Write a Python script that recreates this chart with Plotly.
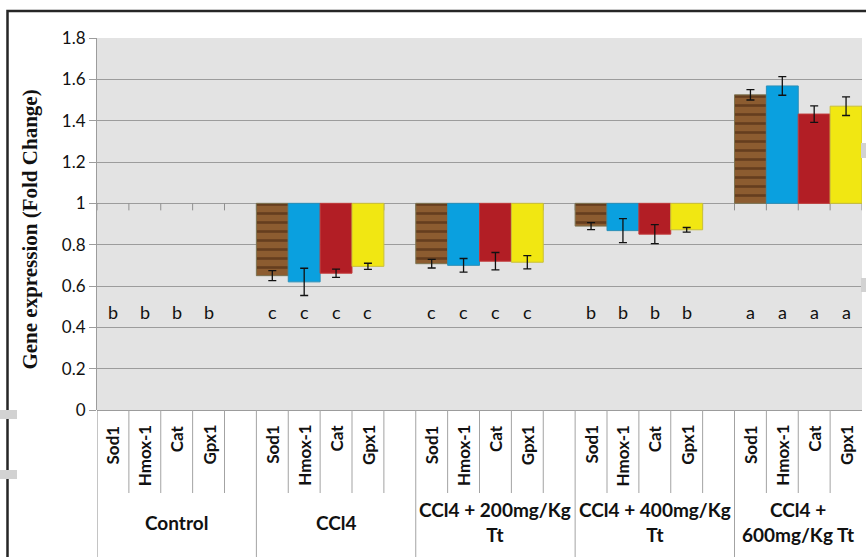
import plotly.graph_objects as go

groups = ["Control", "CCl4", "CCl4 + 200mg/Kg<br>Tt", "CCl4 + 400mg/Kg<br>Tt", "CCl4 +<br>600mg/Kg Tt"]
genes = ["Sod1", "Hmox-1", "Cat", "Gpx1"]

sod1 = [1.0, 0.650, 0.708, 0.890, 1.525]
hmox1 = [1.0, 0.620, 0.700, 0.868, 1.568]
cat = [1.0, 0.662, 0.720, 0.851, 1.432]
gpx1 = [1.0, 0.695, 0.715, 0.872, 1.470]

sod1_err = [0.0, 0.024, 0.021, 0.017, 0.025]
hmox1_err = [0.0, 0.066, 0.033, 0.058, 0.045]
cat_err = [0.0, 0.020, 0.042, 0.046, 0.040]
gpx1_err = [0.0, 0.015, 0.032, 0.011, 0.045]

letters = [["b", "b", "b", "b"], ["c", "c", "c", "c"], ["c", "c", "c", "c"],
           ["b", "b", "b", "b"], ["a", "a", "a", "a"]]

y_ticks = [0, 0.2, 0.4, 0.6, 0.8, 1.0, 1.2, 1.4, 1.6, 1.8]
y_tick_text = ["0", "0.2", "0.4", "0.6", "0.8", "1", "1.2", "1.4", "1.6", "1.8"]

SLOTS_PER_GROUP = 5
N_SLOTS = 24
BASE = 1.0
LETTER_Y = 0.475

FONT = "Lato"

def xpos(gi, ji):
    return gi * SLOTS_PER_GROUP + ji

series = [
    (sod1, sod1_err, "#8a5a2e", "#7d7452",
     dict(shape="-", fgcolor="#3e200c", bgcolor="#8c5c30", size=9, solidity=0.3)),
    (hmox1, hmox1_err, "#0aa0df", "#2a8fb8", None),
    (cat, cat_err, "#b21e25", "#c23a3a", None),
    (gpx1, gpx1_err, "#f1e712", "#c9bf3a", None),
]

fig = go.Figure()

# axis-crossing ticks at y = 1 (behind bars)
shapes = []
for k in range(N_SLOTS + 1):
    shapes.append(dict(type="line", xref="x", yref="y", x0=k - 0.5, x1=k - 0.5,
                       y0=BASE, y1=BASE - 0.034, line=dict(color="#8f8f8f", width=1),
                       layer="between"))

for ji, (vals, errs, col, lcol, pat) in enumerate(series):
    # zero-length bars (value == 1) are not drawn, as in the original
    idx = [gi for gi, v in enumerate(vals) if v != BASE]
    marker = dict(color=col, line=dict(color=lcol, width=1))
    if pat:
        marker["pattern"] = pat
    fig.add_trace(go.Bar(
        x=[xpos(gi, ji) for gi in idx],
        y=[vals[gi] - BASE for gi in idx], base=[BASE] * len(idx),
        width=1.0, marker=marker, name=genes[ji], showlegend=False,
        error_y=dict(type="data", array=[errs[gi] for gi in idx],
                     visible=True, color="#111111", thickness=1.3, width=4),
    ))

annotations = []
# significance letters
for gi in range(len(groups)):
    for ji in range(len(genes)):
        annotations.append(dict(x=xpos(gi, ji), y=LETTER_Y, xref="x", yref="y",
                                text=letters[gi][ji], showarrow=False,
                                font=dict(family=FONT, size=18, color="#111111")))

H = 372.0
def py(px_from_axis):
    return -px_from_axis / H

# gene labels (rotated)
for gi in range(len(groups)):
    for ji, g in enumerate(genes):
        annotations.append(dict(x=xpos(gi, ji), y=py(13), xref="x", yref="paper",
                                text="<b>%s</b>" % g, textangle=-90, showarrow=False,
                                xanchor="center", yanchor="top",
                                font=dict(family=FONT, size=17, color="#111111")))

# group labels
for gi, gname in enumerate(groups):
    start = gi * SLOTS_PER_GROUP - 0.5
    end = min(start + SLOTS_PER_GROUP, N_SLOTS - 0.5)
    annotations.append(dict(x=(start + end) / 2, y=py(112), xref="x", yref="paper",
                            text="<b>%s</b>" % gname, showarrow=False,
                            xanchor="center", yanchor="middle",
                            font=dict(family=FONT, size=19, color="#111111")))

# y axis title
annotations.append(dict(x=(30 - 97) / 765.0, y=0.485, xref="paper", yref="paper",
                        text="<b>Gene expression (Fold Change)</b>", textangle=-90,
                        showarrow=False, xanchor="center", yanchor="middle",
                        font=dict(family="Liberation Serif", size=21, color="#111111")))

# table lines below the axis
line_col = "#a3a3a3"
for k in range(N_SLOTS):
    b = k - 0.5
    is_group = (k % SLOTS_PER_GROUP == 0)
    shapes.append(dict(type="line", xref="x", yref="paper", x0=b, x1=b,
                       y0=0, y1=py(150 if is_group else 83),
                       line=dict(color=line_col if k else "#8a8a8a", width=1)))

# outer frame
shapes.append(dict(type="rect", xref="paper", yref="paper",
                   x0=(7.5 - 97) / 765.0, x1=(880 - 97) / 765.0,
                   y0=py(160), y1=(410 - 11) / H,
                   line=dict(color="#262626", width=2.5), fillcolor="rgba(0,0,0,0)"))

# scanning artefacts at page edges
for (x0, x1, y0, y1) in [(0, 17, 410, 419), (0, 17, 470, 479), (861, 866, 143, 158), (861, 866, 278, 292)]:
    shapes.append(dict(type="rect", xref="paper", yref="paper",
                       x0=(x0 - 97) / 765.0, x1=(x1 - 97) / 765.0,
                       y0=(410 - y1) / H, y1=(410 - y0) / H,
                       line=dict(width=0), fillcolor="#d2d2d2"))

fig.update_layout(
    width=866, height=557,
    margin=dict(l=97, r=4, t=38, b=147),
    paper_bgcolor="white", plot_bgcolor="#e3e3e3",
    barmode="overlay",
    shapes=shapes, annotations=annotations,
    xaxis=dict(range=[-0.5, N_SLOTS - 0.5], showticklabels=False, showgrid=False,
               zeroline=False, showline=False, ticks=""),
    yaxis=dict(range=[0, 1.8], tickvals=y_ticks, ticktext=y_tick_text,
               showgrid=True, gridcolor="#9c9c9c", gridwidth=1.2,
               zeroline=True, zerolinecolor="#9c9c9c", zerolinewidth=1.2,
               showline=True, linecolor="#9c9c9c", linewidth=1,
               ticks="outside", ticklen=7, tickcolor="#9c9c9c",
               tickfont=dict(family=FONT, size=17, color="#111111")),
    font=dict(family=FONT),
)

fig.write_html("out.html", config={"displayModeBar": False},
               post_script="document.body.style.margin='0';document.body.style.overflow='hidden';")
